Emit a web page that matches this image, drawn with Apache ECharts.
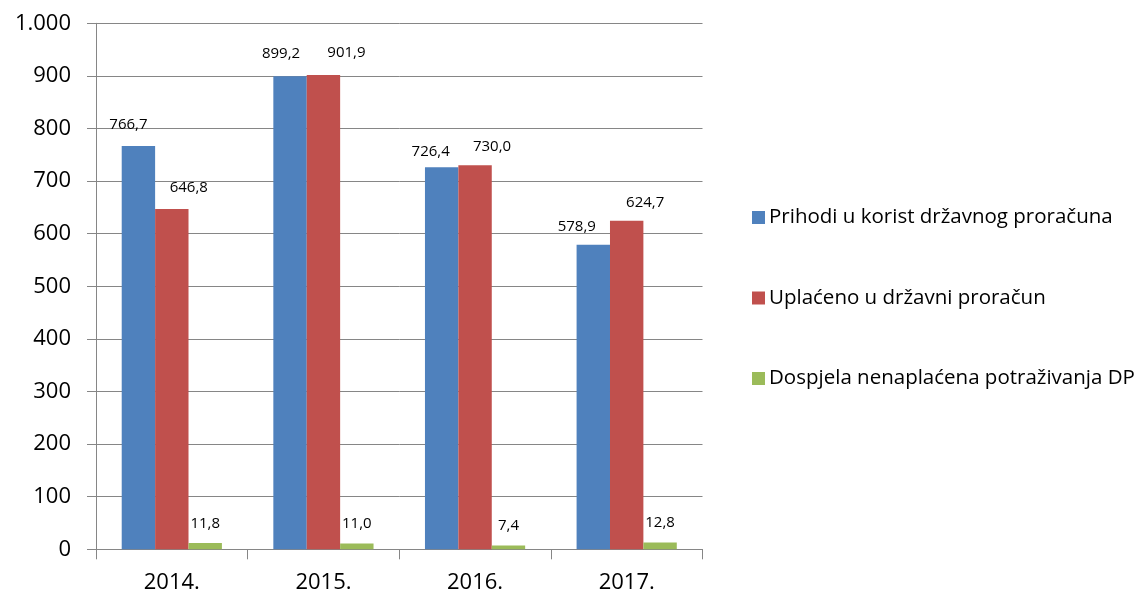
<!DOCTYPE html>
<html>
<head>
<meta charset="utf-8">
<script src="https://cdn.jsdelivr.net/npm/echarts@6/dist/echarts.min.js"></script>
<style>
  html, body { margin: 0; padding: 0; background: #ffffff; }
  #chart { width: 1140px; height: 593px; }
</style>
</head>
<body>
<div id="chart"></div>
<script>
// Years on the category axis
const years = ['2014.', '2015.', '2016.', '2017.'];

// Series values (mil. kn)
const prihodi = [766.7, 899.2, 726.4, 578.9];
const uplaceno = [646.8, 901.9, 730.0, 624.7];
const dospjela = [11.8, 11.0, 7.4, 12.8];

// Series names shown in the legend
const seriesNames = [
  'Prihodi u korist državnog proračuna',
  'Uplaćeno u državni proračun',
  'Dospjela nenaplaćena potraživanja DP'
];

// Value axis range and step
const yMin = 0;
const yMax = 1000;
const yStep = 100;

// Small nudges for value labels so neighbouring labels don't collide
const labelNudgeBlue = [[-10, -1.5], [-9, -3.5], [-11, 4], [-16.5, 1.5]];
const labelNudgeRed = [[17, -1.5], [23, -3], [17, 1], [18.5, 1.5]];

const FONT = '"Open Sans", "Noto Sans", sans-serif';
const GRID_COLOR = '#868686';

function fmtValue(v) {
  return v.toFixed(1).replace('.', ',');
}
function fmtAxis(v) {
  return String(v).replace(/\B(?=(\d{3})+(?!\d))/g, '.');
}

function withNudges(values, nudges) {
  return values.map((v, i) => ({
    value: v,
    label: nudges ? { offset: nudges[i] } : undefined
  }));
}

function barSeries(name, values, color, nudges) {
  return {
    name: name,
    type: 'bar',
    barWidth: 33.4,
    barGap: '0%',
    itemStyle: { color: color },
    label: {
      show: true,
      position: 'top',
      distance: 12,
      fontFamily: FONT,
      fontSize: 15,
      color: '#000000',
      formatter: p => fmtValue(p.value)
    },
    data: withNudges(values, nudges)
  };
}

const chart = echarts.init(document.getElementById('chart'), null, { renderer: 'canvas' });

chart.setOption({
  animation: false,
  backgroundColor: '#ffffff',
  textStyle: { fontFamily: FONT },
  grid: {
    left: 96,
    right: 437.5,
    top: 23.3,
    bottom: 43.7,
    containLabel: false,
    outerBoundsMode: 'none'
  },
  legend: {
    orient: 'vertical',
    left: 747,
    top: 202,
    itemWidth: 13,
    itemHeight: 13,
    itemGap: 59.5,
    icon: 'rect',
    textStyle: {
      fontFamily: FONT,
      fontSize: 20.5,
      lineHeight: 21,
      color: '#000000',
      padding: [0, 0, 0, -1]
    },
    data: seriesNames
  },
  xAxis: {
    type: 'category',
    data: years,
    boundaryGap: true,
    axisLine: { show: true, lineStyle: { color: GRID_COLOR, width: 1 } },
    axisTick: {
      show: true,
      alignWithLabel: false,
      length: 10,
      lineStyle: { color: GRID_COLOR, width: 1 }
    },
    axisLabel: {
      fontFamily: FONT,
      fontSize: 22,
      color: '#000000',
      margin: 22
    }
  },
  yAxis: {
    type: 'value',
    min: yMin,
    max: yMax,
    interval: yStep,
    axisLine: { show: true, lineStyle: { color: GRID_COLOR, width: 1 } },
    axisTick: { show: true, length: 9, lineStyle: { color: GRID_COLOR, width: 1 } },
    splitLine: { show: true, lineStyle: { color: GRID_COLOR, width: 1 } },
    axisLabel: {
      fontFamily: FONT,
      fontSize: 22,
      color: '#000000',
      margin: 25,
      formatter: v => fmtAxis(v)
    }
  },
  series: [
    barSeries(seriesNames[0], prihodi, '#4F81BD', labelNudgeBlue),
    barSeries(seriesNames[1], uplaceno, '#C0504D', labelNudgeRed),
    barSeries(seriesNames[2], dospjela, '#9BBB59', null)
  ]
});
</script>
</body>
</html>
